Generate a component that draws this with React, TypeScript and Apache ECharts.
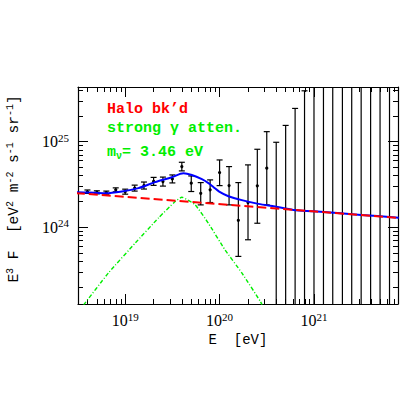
import React, { useEffect, useRef } from 'react';
import * as echarts from 'echarts';

// ---- data (energies in eV, E^3 F in eV^2 m^-2 s^-1 sr^-1) ----
const binEnergy = [3.98e18, 5.01e18, 6.31e18, 7.94e18, 1.0e19, 1.26e19, 1.58e19, 2.0e19, 2.51e19, 3.16e19, 3.98e19, 5.01e19, 6.31e19, 7.94e19, 1.0e20, 1.26e20, 1.58e20, 2.0e20, 2.51e20, 3.16e20];
const binFlux = [2.59e24, 2.55e24, 2.53e24, 2.73e24, 2.6e24, 2.86e24, 3.06e24, 3.43e24, 3.41e24, 3.66e24, 5.11e24, 3.27e24, 2.49e24, 2.73e24, 4.35e24, 3.06e24, 1.2e24, 1.94e24, 3.04e24, 4.89e24];
const binFluxHi = [2.72e24, 2.66e24, 2.64e24, 2.88e24, 2.78e24, 3.1e24, 3.37e24, 3.82e24, 3.85e24, 4.08e24, 5.74e24, 3.97e24, 3.32e24, 3.57e24, 6.11e24, 5.11e24, 3.32e24, 5.35e24, 8.15e24, 1.31e25];
const binFluxLo = [2.48e24, 2.45e24, 2.43e24, 2.59e24, 2.43e24, 2.64e24, 2.79e24, 3.08e24, 3.02e24, 3.29e24, 4.55e24, 2.61e24, 1.82e24, 1.94e24, 3.06e24, 1.82e24, 4.54e23, 7.11e23, 1.11e24, 1.82e24];
const limitEnergy = [3.98e20, 5.01e20, 6.31e20, 7.94e20, 1.0e21, 1.26e21, 1.58e21, 2.0e21, 2.51e21, 3.16e21, 3.98e21, 5.01e21, 6.31e21];
const limitFluxHi = [9.84e24, 1.55e25, 2.45e25, 3.94e25, 6.3e25, 1.0e26, 1.6e26, 2.5e26, 4.0e26, 6.3e26, 1.0e27, 1.6e27, 2.5e27];

const totalEnergy = [3.0e18, 4.09e18, 6.14e18, 9.23e18, 1.38e19, 2.07e19, 3.12e19, 4.14e19, 5.08e19, 6.49e19, 7.62e19, 8.59e19, 9.9e19, 1.24e20, 1.72e20, 2.58e20, 3.86e20, 6.04e20, 1.0e21, 3.16e21, 7.9e21];
const totalFlux = [2.56e24, 2.54e24, 2.49e24, 2.61e24, 2.86e24, 3.36e24, 3.84e24, 4.28e24, 4.08e24, 3.64e24, 3.27e24, 2.95e24, 2.6e24, 2.3e24, 2.07e24, 1.87e24, 1.74e24, 1.59e24, 1.53e24, 1.39e24, 1.29e24];

const haloEnergy = [3.0e18, 7.9e21];
const haloFlux = [2.5e24, 1.28e24];

const attenEnergy = [3.63e18, 6.65e18, 1.28e19, 2.25e19, 3.38e19, 3.98e19, 5.51e19, 7.6e19, 1.14e20, 1.72e20, 2.69e20, 2.82e20];
const attenFlux = [1.23e23, 2.91e23, 6.52e23, 1.28e24, 1.99e24, 2.24e24, 1.82e24, 1.11e24, 5.43e23, 2.91e23, 1.36e23, 1.23e23];

const xMajor = [19, 20, 21];
const yMajor = [24, 25];

const X_MIN = 18.5;
const X_MAX = 21.89;
const Y_MIN = 23.1;
const Y_MAX = 25.64;

const lg = (v: number) => Math.log10(v);

function minorTicks(min: number, max: number): number[] {
  const out: number[] = [];
  for (let d = Math.floor(min) - 1; d <= Math.ceil(max); d++) {
    for (let k = 2; k <= 9; k++) {
      const v = d + Math.log10(k);
      if (v > min && v < max) out.push(v);
    }
  }
  return out;
}

const SERIF = 'Liberation Serif, DejaVu Serif, serif';
const MONO = 'Liberation Mono, DejaVu Sans Mono, monospace';

export default function App() {
  const ref = useRef<HTMLDivElement>(null);
  useEffect(() => {
    const chart = echarts.init(ref.current!, null, { renderer: 'svg' });
    const xMinor = minorTicks(X_MIN, X_MAX);
    const yMinor = minorTicks(Y_MIN, Y_MAX);
    const fmt = (v: number) => `{b|10}{s|${Math.round(v)}}`;
    const rich = {
      b: { fontFamily: SERIF, fontSize: 16, lineHeight: 19, color: '#000' },
      s: { fontFamily: SERIF, fontSize: 11, lineHeight: 13, verticalAlign: 'top', color: '#000' },
    };
    const lineStyle = { color: '#000', width: 1.2 };
    const tickStyle = { color: '#000', width: 1 };

    const mkX = (pos: string, major: boolean, labels: boolean): any => ({
      type: 'value', position: pos, min: X_MIN, max: X_MAX,
      axisLine: { show: major, onZero: false, lineStyle },
      axisTick: { show: true, inside: true, length: major ? 10 : 5, customValues: major ? xMajor : xMinor, lineStyle: tickStyle },
      axisLabel: labels ? { show: true, customValues: xMajor, formatter: fmt, rich, margin: 7 } : { show: false },
      splitLine: { show: false },
      ...(labels ? {
        name: 'E  [eV]', nameLocation: 'middle', nameGap: 27,
        nameTextStyle: { fontFamily: MONO, fontSize: 14, color: '#000' },
      } : {}),
    });
    const mkY = (pos: string, major: boolean, labels: boolean): any => ({
      type: 'value', position: pos, min: Y_MIN, max: Y_MAX,
      axisLine: { show: major, onZero: false, lineStyle },
      axisTick: { show: true, inside: true, length: major ? 10 : 5, customValues: major ? yMajor : yMinor, lineStyle: tickStyle },
      axisLabel: labels ? { show: true, customValues: yMajor, formatter: fmt, rich, margin: 9 } : { show: false },
      splitLine: { show: false },
    });

    const option: any = {
      animation: false,
      backgroundColor: '#fff',
      grid: { left: 78, top: 87, right: 22, bottom: 116, containLabel: false },
      xAxis: [mkX('bottom', true, true), mkX('bottom', false, false), mkX('top', true, false), mkX('top', false, false)],
      yAxis: [mkY('left', true, true), mkY('left', false, false), mkY('right', true, false), mkY('right', false, false)],
      series: [
        {
          type: 'custom', xAxisIndex: 0, yAxisIndex: 0,
          data: binEnergy.map((e, i) => [lg(e), lg(binFlux[i]), lg(binFluxHi[i]), lg(binFluxLo[i])]),
          renderItem: (params: any, api: any) => {
            const cs = params.coordSys;
            const top = cs.y, bot = cs.y + cs.height;
            const c = api.coord([api.value(0), api.value(1)]);
            const hi = api.coord([api.value(0), api.value(2)]);
            const lo = api.coord([api.value(0), api.value(3)]);
            const x = c[0];
            const st = { stroke: '#000', lineWidth: 1.2 };
            const ch: any[] = [
              { type: 'line', shape: { x1: x, y1: Math.max(top, hi[1]), x2: x, y2: Math.min(bot, lo[1]) }, style: st },
            ];
            if (hi[1] >= top) ch.push({ type: 'line', shape: { x1: x - 3, y1: hi[1], x2: x + 3, y2: hi[1] }, style: st });
            if (lo[1] <= bot) ch.push({ type: 'line', shape: { x1: x - 3, y1: lo[1], x2: x + 3, y2: lo[1] }, style: st });
            ch.push({ type: 'circle', shape: { cx: x, cy: c[1], r: 1.6 }, style: { fill: '#000' } });
            return { type: 'group', children: ch };
          },
          z: 2,
        },
        {
          type: 'custom', xAxisIndex: 0, yAxisIndex: 0,
          data: limitEnergy.map((e, i) => [lg(e), lg(limitFluxHi[i])]),
          renderItem: (params: any, api: any) => {
            const cs = params.coordSys;
            const top = cs.y, bot = cs.y + cs.height;
            const hi = api.coord([api.value(0), api.value(1)]);
            const x = hi[0];
            const st = { stroke: '#000', lineWidth: 1.2 };
            const ch: any[] = [
              { type: 'line', shape: { x1: x, y1: Math.max(top, hi[1]), x2: x, y2: bot }, style: st },
            ];
            if (hi[1] >= top) ch.push({ type: 'line', shape: { x1: x - 3, y1: hi[1], x2: x + 3, y2: hi[1] }, style: st });
            return { type: 'group', children: ch };
          },
          z: 2,
        },
        {
          type: 'line', xAxisIndex: 0, yAxisIndex: 0, showSymbol: false, smooth: 0.15, clip: true,
          data: attenEnergy.map((e, i) => [lg(e), lg(attenFlux[i])]),
          lineStyle: { color: '#00ee00', width: 1.4, type: [4, 2, 1, 2] },
          z: 3,
        },
        {
          type: 'line', xAxisIndex: 0, yAxisIndex: 0, showSymbol: false, smooth: 0.3, clip: true,
          data: totalEnergy.map((e, i) => [lg(e), lg(totalFlux[i])]),
          lineStyle: { color: '#0000ff', width: 2 },
          z: 4,
        },
        {
          type: 'line', xAxisIndex: 0, yAxisIndex: 0, showSymbol: false, clip: true,
          data: haloEnergy.map((e, i) => [lg(e), lg(haloFlux[i])]),
          lineStyle: { color: '#ff0000', width: 2, type: [9, 4] },
          z: 5,
        },
      ],
      graphic: [
        {
          type: 'text', left: 107, top: 102,
          style: { text: 'Halo bk’d', fill: '#ff0000', font: `bold 15px ${MONO}` },
        },
        {
          type: 'text', left: 107, top: 121,
          style: { text: 'strong γ atten.', fill: '#00ee00', font: `bold 15px ${MONO}` },
        },
        {
          type: 'text', left: 107, top: 145,
          style: {
            text: '{m|m}{u|ν}{m|= 3.46 eV}', fill: '#00ee00',
            rich: {
              m: { fontFamily: MONO, fontWeight: 'bold', fontSize: 15, lineHeight: 18, fill: '#00ee00' },
              u: { fontFamily: MONO, fontWeight: 'bold', fontSize: 10, lineHeight: 12, verticalAlign: 'bottom', fill: '#00ee00' },
            },
          },
        },
        {
          type: 'text', x: 14, y: 189, rotation: Math.PI / 2,
          style: {
            text: '{m|E}{s|3}{m| F  [eV}{s|2}{m| m}{s|-2}{m| s}{s|-1}{m| sr}{s|-1}{m|]}',
            align: 'center', verticalAlign: 'middle', fill: '#000',
            rich: {
              m: { fontFamily: MONO, fontSize: 14.5, lineHeight: 18, fill: '#000' },
              s: { fontFamily: MONO, fontSize: 10, lineHeight: 12, verticalAlign: 'top', fill: '#000' },
            },
          },
        },
      ],
    };
    chart.setOption(option);
    return () => chart.dispose();
  }, []);
  return (
    <div
      ref={ref}
      style={{ position: 'absolute', left: 0, top: 0, width: 420, height: 420, background: '#fff' }}
    />
  );
}
